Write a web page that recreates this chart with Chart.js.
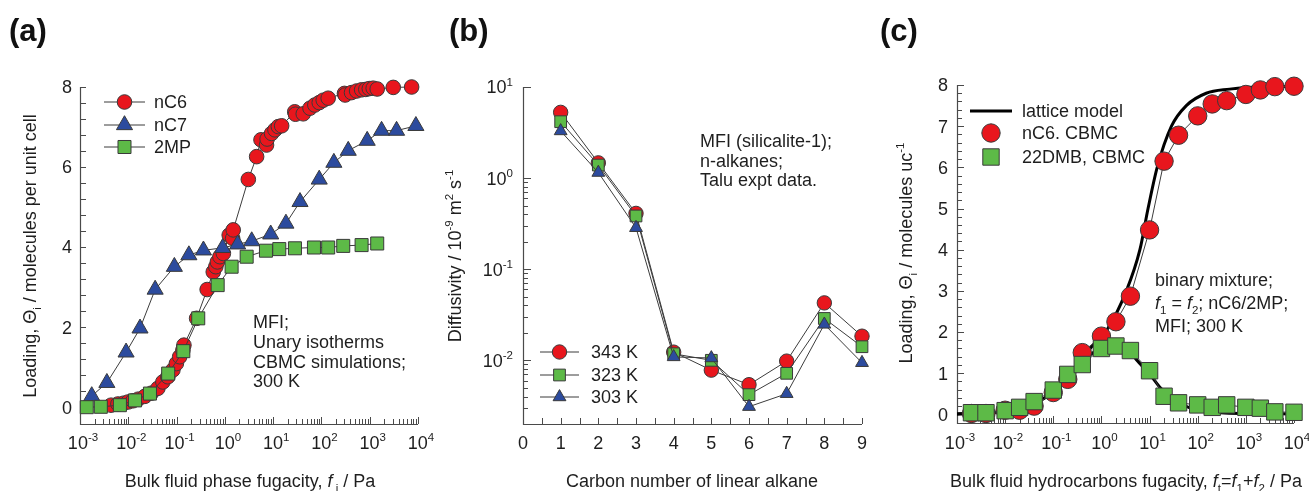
<!DOCTYPE html>
<html>
<head>
<meta charset="utf-8">
<script src="https://cdn.jsdelivr.net/npm/chart.js@4.4.1/dist/chart.umd.min.js"></script>
<style>
  html, body { margin: 0; padding: 0; background: #fff; width: 1309px; height: 491px; overflow: hidden; }
  canvas { position: absolute; top: 0; }
</style>
</head>
<body>
<canvas id="panelA" width="440" height="491" style="left:0px"></canvas>
<canvas id="panelB" width="435" height="491" style="left:440px"></canvas>
<canvas id="panelC" width="434" height="491" style="left:875px"></canvas>
<script>
// ---------- (a) unary isotherms in MFI, 300 K ----------
const nC6Fugacity = [0.0044, 0.0061, 0.008, 0.0099, 0.0125, 0.016, 0.022, 0.03, 0.041, 0.052, 0.066, 0.084, 0.099, 0.116, 0.135, 0.142, 0.26, 0.43, 0.575, 0.65, 0.70, 0.79, 0.93, 1.23, 1.45, 1.49, 3.06, 4.55, 5.6, 7.3, 7.5, 9.3, 10.9, 12.8, 15, 28, 29, 42, 58, 73, 90, 109, 138, 300, 310, 420, 535, 680, 830, 980, 1180, 1430, 3070, 7380];
const nC6Loading  = [0.05, 0.08, 0.10, 0.13, 0.16, 0.20, 0.27, 0.35, 0.47, 0.63, 0.76, 0.93, 1.09, 1.26, 1.42, 1.55, 2.22, 2.94, 3.38, 3.51, 3.63, 3.76, 3.84, 4.30, 4.22, 4.43, 5.69, 6.26, 6.68, 6.55, 6.70, 6.84, 6.93, 7.01, 7.03, 7.38, 7.32, 7.33, 7.47, 7.55, 7.61, 7.67, 7.72, 7.84, 7.80, 7.86, 7.90, 7.93, 7.94, 7.96, 7.97, 7.95, 7.99, 8.0];
const nC7Fugacity = [0.00175, 0.0036, 0.009, 0.0175, 0.036, 0.09, 0.18, 0.36, 0.9, 1.84, 3.6, 8.9, 18.4, 36, 90, 181, 359, 887, 1760, 3600, 9040];
const nC7Loading  = [0.28, 0.61, 1.37, 1.97, 2.94, 3.51, 3.80, 3.92, 3.98, 4.07, 4.15, 4.32, 4.59, 5.13, 5.69, 6.11, 6.41, 6.66, 6.91, 6.91, 7.03];
const mp2Fugacity = [0.00138, 0.0027, 0.0067, 0.0138, 0.0281, 0.067, 0.138, 0.281, 0.71, 1.38, 2.83, 7.1, 13.4, 28.3, 70, 138, 283, 679, 1430];
const mp2Loading  = [0.0, 0.01, 0.05, 0.17, 0.34, 0.84, 1.40, 2.22, 3.05, 3.51, 3.76, 3.91, 3.95, 3.97, 3.99, 3.99, 4.03, 4.05, 4.09];

// ---------- (b) diffusivities of n-alkanes in silicalite-1 ----------
const carbonNumber = [1, 2, 3, 4, 5, 6, 7, 8, 9];
const diffusivity343K = [5.27, 1.47, 0.41, 0.0123, 0.0078, 0.0054, 0.0098, 0.0427, 0.0184];
const diffusivity323K = [4.16, 1.39, 0.384, 0.0118, 0.0100, 0.0042, 0.0072, 0.0288, 0.0141];
const diffusivity303K = [3.29, 1.15, 0.285, 0.0109, 0.0106, 0.0031, 0.0043, 0.0248, 0.0094];

// ---------- (c) binary mixture nC6 / 22DMB ----------
const mixFugacity    = [0.002, 0.004, 0.01, 0.02, 0.04, 0.1, 0.2, 0.4, 1, 2, 4, 10, 20, 40, 100, 200, 400, 1000, 2000, 4000, 10000];
const mixNC6Loading  = [0.02, 0.02, 0.10, 0.10, 0.20, 0.53, 0.85, 1.50, 1.90, 2.25, 2.87, 4.48, 6.15, 6.78, 7.25, 7.54, 7.62, 7.77, 7.88, 7.96, 7.97];
const mixDMBLoading  = [0.04, 0.04, 0.09, 0.17, 0.31, 0.59, 0.97, 1.21, 1.60, 1.66, 1.55, 1.06, 0.44, 0.28, 0.23, 0.17, 0.23, 0.17, 0.15, 0.06, 0.05];
const latticeNC6Fugacity = [0.001, 0.004, 0.01, 0.02, 0.04, 0.1, 0.2, 0.45, 1, 1.3, 3.3, 6.3, 9.3, 14.4, 28.5, 58, 150, 460, 1000, 10000];
const latticeNC6Loading  = [0.01, 0.03, 0.07, 0.13, 0.25, 0.55, 0.92, 1.45, 1.9, 2.05, 3.0, 4.0, 5.0, 6.0, 7.0, 7.5, 7.8, 7.9, 7.94, 7.97];
const latticeDMBFugacity = [0.001, 0.01, 0.02, 0.04, 0.1, 0.2, 0.4, 1, 2, 4, 5.4, 10, 16, 25, 42, 100, 300, 1000, 10000];
const latticeDMBLoading  = [0.01, 0.07, 0.13, 0.25, 0.55, 0.92, 1.3, 1.6, 1.65, 1.52, 1.32, 0.98, 0.67, 0.45, 0.27, 0.1, 0.04, 0.02, 0.01];

// ---------- tick labels ----------
const fugacityDecades = [-3, -2, -1, 0, 1, 2, 3, 4];
const loadingTicksA = [0, 2, 4, 6, 8];
const diffusivityDecades = [-2, -1, 0, 1];
const carbonTicks = [0, 1, 2, 3, 4, 5, 6, 7, 8, 9];
const loadingTicksC = [0, 1, 2, 3, 4, 5, 6, 7, 8];

const FONT = '"Liberation Sans", Arial, Helvetica, sans-serif';
const INK = '#1e1e1e';
const AXIS = '#4a4a4a';
const RED = '#e8161d', BLUE = '#2c4b9e', GREEN = '#5dba47';
const EDGE = '#3a3a3a';

const xy = (xs, ys) => xs.map((x, i) => ({ x: x, y: ys[i] }));

// draws text made of runs: plain, italic, subscript, superscript
function richText(ctx, segs, x, y, size, align, rotate) {
  const parts = segs.map(s => typeof s === 'string' ? { t: s } : Object.assign({}, s));
  const fontOf = p => (p.i ? 'italic ' : '') + ((p.sub || p.sup) ? size * 0.64 : size) + 'px ' + FONT;
  let total = 0;
  parts.forEach(p => { ctx.font = fontOf(p); p.w = ctx.measureText(p.t).width; total += p.w; });
  ctx.save();
  ctx.translate(x, y);
  if (rotate) ctx.rotate(-Math.PI / 2);
  ctx.fillStyle = INK;
  ctx.textAlign = 'left';
  ctx.textBaseline = 'alphabetic';
  let cx = align === 'center' ? -total / 2 : align === 'right' ? -total : 0;
  parts.forEach(p => {
    ctx.font = fontOf(p);
    const dy = p.sub ? size * 0.28 : p.sup ? -size * 0.42 : 0;
    ctx.fillText(p.t, cx, dy);
    cx += p.w;
  });
  ctx.restore();
}

function frame(ctx, a) {
  ctx.save();
  ctx.strokeStyle = AXIS;
  ctx.lineWidth = 1.2;
  ctx.beginPath();
  ctx.moveTo(Math.round(a.left) + 0.5, a.top);
  ctx.lineTo(Math.round(a.left) + 0.5, Math.round(a.bottom) + 0.5);
  ctx.lineTo(a.right, Math.round(a.bottom) + 0.5);
  ctx.stroke();
  ctx.restore();
}

function xTicks(ctx, scale, a, values, len) {
  ctx.save();
  ctx.strokeStyle = AXIS;
  ctx.lineWidth = 1;
  ctx.beginPath();
  values.forEach(v => {
    const px = Math.round(scale.getPixelForValue(v)) + 0.5;
    ctx.moveTo(px, a.bottom);
    ctx.lineTo(px, a.bottom - len);
  });
  ctx.stroke();
  ctx.restore();
}

function yTicks(ctx, scale, a, values, len) {
  ctx.save();
  ctx.strokeStyle = AXIS;
  ctx.lineWidth = 1;
  ctx.beginPath();
  values.forEach(v => {
    const py = Math.round(scale.getPixelForValue(v)) + 0.5;
    ctx.moveTo(a.left, py);
    ctx.lineTo(a.left + len, py);
  });
  ctx.stroke();
  ctx.restore();
}

function logMinor(decades) {
  const out = [];
  for (let i = 0; i < decades.length - 1; i++) {
    for (let m = 2; m <= 9; m++) out.push(m * Math.pow(10, decades[i]));
  }
  return out;
}

function legendRow(ctx, y, x0, x1, style, label, withLine, lineW, lineColor) {
  if (withLine) {
    ctx.save();
    ctx.strokeStyle = lineColor || EDGE;
    ctx.lineWidth = lineW || 1;
    ctx.beginPath();
    ctx.moveTo(x0, y); ctx.lineTo(x1, y);
    ctx.stroke();
    ctx.restore();
  }
  if (style) {
    ctx.save();
    ctx.fillStyle = style.fill;
    ctx.strokeStyle = EDGE;
    ctx.lineWidth = 1;
    Chart.helpers.drawPoint(ctx, { pointStyle: style.shape, radius: style.r, rotation: 0, borderWidth: 1 }, (x0 + x1) / 2, y);
    ctx.restore();
  }
  richText(ctx, label.segs, label.x, y + 6.3, 18, 'left');
}

function series(points, shape, fill, r, order) {
  return {
    data: points, showLine: true, borderColor: '#3c3c3c', borderWidth: 1,
    pointStyle: shape, pointRadius: r, pointHoverRadius: r,
    pointBackgroundColor: fill, pointBorderColor: EDGE, pointBorderWidth: 1,
    clip: false, order: order
  };
}

function baseOptions(padding, xOpts, yOpts) {
  return {
    responsive: false, animation: false, devicePixelRatio: 1,
    layout: { padding: padding },
    events: [],
    plugins: { legend: { display: false }, tooltip: { enabled: false } },
    scales: {
      x: Object.assign({ display: false }, xOpts),
      y: Object.assign({ display: false }, yOpts)
    }
  };
}

// ---------------- panel (a) ----------------
new Chart(document.getElementById('panelA'), {
  type: 'scatter',
  data: {
    datasets: [
      series(xy(mp2Fugacity, mp2Loading), 'rect', GREEN, 9.2, 0),
      series(xy(nC7Fugacity, nC7Loading), 'triangle', BLUE, 9.3, 1),
      series(xy(nC6Fugacity, nC6Loading), 'circle', RED, 7.3, 2)
    ]
  },
  options: baseOptions({ left: 80, top: 87, right: 22, bottom: 67 },
    { type: 'logarithmic', min: 1e-3, max: 1e4 },
    { type: 'linear', min: -0.42, max: 8 }),
  plugins: [{
    id: 'decorA',
    beforeDatasetsDraw(chart) {
      const ctx = chart.ctx, a = chart.chartArea, sx = chart.scales.x, sy = chart.scales.y;
      frame(ctx, a);
      xTicks(ctx, sx, a, logMinor(fugacityDecades), 5);
      xTicks(ctx, sx, a, fugacityDecades.map(d => Math.pow(10, d)), 7);
      const yMinor = [];
      for (let k = 0; k <= 20; k++) yMinor.push(k * 0.4);
      yTicks(ctx, sy, a, yMinor, 6);
    },
    afterDraw(chart) {
      const ctx = chart.ctx, a = chart.chartArea, sx = chart.scales.x, sy = chart.scales.y;
      fugacityDecades.forEach(d => richText(ctx, ['10', { t: String(d), sup: true }], sx.getPixelForValue(Math.pow(10, d)) + 3, 449, 18, 'center'));
      loadingTicksA.forEach(v => richText(ctx, [String(v)], a.left - 8, sy.getPixelForValue(v) + 6.4, 18, 'right'));
      richText(ctx, ['Bulk fluid phase fugacity, ', { t: 'f', i: true }, { t: ' i', sub: true }, ' / Pa'], 250, 487, 18, 'center');
      richText(ctx, ['Loading, \u0398', { t: 'i', sub: true }, ' / molecules per unit cell'], 36, 256, 18, 'center', true);
      ctx.save(); ctx.font = 'bold 31px ' + FONT; ctx.fillStyle = '#111'; ctx.textBaseline = 'alphabetic'; ctx.fillText('(a)', 9, 41); ctx.restore();
      legendRow(ctx, 102, 104, 145, { shape: 'circle', fill: RED, r: 7.3 }, { x: 154, segs: ['nC6'] }, true);
      legendRow(ctx, 125, 104, 145, { shape: 'triangle', fill: BLUE, r: 9.3 }, { x: 154, segs: ['nC7'] }, true);
      legendRow(ctx, 147, 104, 145, { shape: 'rect', fill: GREEN, r: 9.2 }, { x: 154, segs: ['2MP'] }, true);
      const note = ['MFI;', 'Unary isotherms', 'CBMC simulations;', '300 K'];
      [328, 348, 368, 387].forEach((y, i) => richText(ctx, [note[i]], 253, y, 18, 'left'));
    }
  }]
});

// ---------------- panel (b) ----------------
new Chart(document.getElementById('panelB'), {
  type: 'scatter',
  data: {
    datasets: [
      series(xy(carbonNumber, diffusivity303K), 'triangle', BLUE, 7.4, 0),
      series(xy(carbonNumber, diffusivity323K), 'rect', GREEN, 8.3, 1),
      series(xy(carbonNumber, diffusivity343K), 'circle', RED, 7.2, 2)
    ]
  },
  options: baseOptions({ left: 83, top: 87, right: 13, bottom: 67 },
    { type: 'linear', min: 0, max: 9 },
    { type: 'logarithmic', min: 0.002, max: 10 }),
  plugins: [{
    id: 'decorB',
    beforeDatasetsDraw(chart) {
      const ctx = chart.ctx, a = chart.chartArea, sx = chart.scales.x, sy = chart.scales.y;
      frame(ctx, a);
      const xs = [];
      for (let k = 1; k <= 18; k++) xs.push(k * 0.5);
      xTicks(ctx, sx, a, xs, 6);
      const minor = logMinor([-3, -2, -1, 0]).filter(v => v >= 0.002 && v <= 10);
      yTicks(ctx, sy, a, minor, 5);
      yTicks(ctx, sy, a, diffusivityDecades.map(d => Math.pow(10, d)), 8);
    },
    afterDraw(chart) {
      const ctx = chart.ctx, a = chart.chartArea, sx = chart.scales.x, sy = chart.scales.y;
      carbonTicks.forEach(v => richText(ctx, [String(v)], sx.getPixelForValue(v), 449, 18, 'center'));
      diffusivityDecades.forEach(d => richText(ctx, ['10', { t: String(d), sup: true }], a.left - 10, sy.getPixelForValue(Math.pow(10, d)) + 6.4, 18, 'right'));
      richText(ctx, ['Carbon number of linear alkane'], 252, 487, 18, 'center');
      richText(ctx, ['Diffusivity / 10', { t: '-9', sup: true }, ' m', { t: '2', sup: true }, ' s', { t: '-1', sup: true }], 21, 256, 18, 'center', true);
      ctx.save(); ctx.font = 'bold 31px ' + FONT; ctx.fillStyle = '#111'; ctx.textBaseline = 'alphabetic'; ctx.fillText('(b)', 9, 41); ctx.restore();
      legendRow(ctx, 352, 100, 139, { shape: 'circle', fill: RED, r: 7.2 }, { x: 151, segs: ['343 K'] }, true);
      legendRow(ctx, 375, 100, 139, { shape: 'rect', fill: GREEN, r: 8.3 }, { x: 151, segs: ['323 K'] }, true);
      legendRow(ctx, 397, 100, 139, { shape: 'triangle', fill: BLUE, r: 7.4 }, { x: 151, segs: ['303 K'] }, true);
      const note = ['MFI (silicalite-1);', 'n-alkanes;', 'Talu expt data.'];
      [147, 167, 186].forEach((y, i) => richText(ctx, [note[i]], 260, y, 18, 'left'));
    }
  }]
});

// ---------------- panel (c) ----------------
new Chart(document.getElementById('panelC'), {
  type: 'scatter',
  data: {
    datasets: [
      series(xy(mixFugacity, mixDMBLoading), 'rect', GREEN, 11.6, 0),
      series(xy(mixFugacity, mixNC6Loading), 'circle', RED, 9.2, 1),
      { data: xy(latticeNC6Fugacity, latticeNC6Loading), showLine: true, borderColor: '#000', borderWidth: 3,
        pointRadius: 0, cubicInterpolationMode: 'monotone', clip: false, order: 2 },
      { data: xy(latticeDMBFugacity, latticeDMBLoading), showLine: true, borderColor: '#000', borderWidth: 3,
        pointRadius: 0, cubicInterpolationMode: 'monotone', clip: false, order: 3 }
    ].map(d => Object.assign(d, { showLine: d.showLine !== undefined ? d.showLine : true }))
  },
  options: baseOptions({ left: 82, top: 85, right: 15, bottom: 68 },
    { type: 'logarithmic', min: 1e-3, max: 1e4 },
    { type: 'linear', min: -0.21, max: 8 }),
  plugins: [{
    id: 'decorC',
    beforeDatasetsDraw(chart) {
      const ctx = chart.ctx, a = chart.chartArea, sx = chart.scales.x, sy = chart.scales.y;
      frame(ctx, a);
      xTicks(ctx, sx, a, logMinor(fugacityDecades), 5);
      xTicks(ctx, sx, a, fugacityDecades.map(d => Math.pow(10, d)), 7);
      const yMinor = [];
      for (let k = 0; k <= 40; k++) yMinor.push(k * 0.2);
      yTicks(ctx, sy, a, yMinor, 5);
      yTicks(ctx, sy, a, loadingTicksC, 7);
    },
    afterDraw(chart) {
      const ctx = chart.ctx, a = chart.chartArea, sx = chart.scales.x, sy = chart.scales.y;
      fugacityDecades.forEach(d => richText(ctx, ['10', { t: String(d), sup: true }], sx.getPixelForValue(Math.pow(10, d)) + 3, 449, 18, 'center'));
      loadingTicksC.forEach(v => richText(ctx, [String(v)], a.left - 9, sy.getPixelForValue(v) + 6.4, 18, 'right'));
      richText(ctx, ['Bulk fluid hydrocarbons fugacity, ', { t: 'f', i: true }, { t: 't', sub: true }, '=', { t: 'f', i: true }, { t: '1', sub: true }, '+', { t: 'f', i: true }, { t: '2', sub: true }, ' / Pa'], 251, 487, 18, 'center');
      richText(ctx, ['Loading, \u0398', { t: 'i', sub: true }, ' / molecules uc', { t: '-1', sup: true }], 37, 253, 18, 'center', true);
      ctx.save(); ctx.font = 'bold 31px ' + FONT; ctx.fillStyle = '#111'; ctx.textBaseline = 'alphabetic'; ctx.fillText('(c)', 5, 41); ctx.restore();
      legendRow(ctx, 111, 95, 137, null, { x: 147, segs: ['lattice model'] }, true, 3.2, '#000');
      legendRow(ctx, 133, 95, 137, { shape: 'circle', fill: RED, r: 9.2 }, { x: 147, segs: ['nC6. CBMC'] }, false);
      legendRow(ctx, 157, 95, 137, { shape: 'rect', fill: GREEN, r: 11.6 }, { x: 147, segs: ['22DMB, CBMC'] }, false);
      richText(ctx, ['binary mixture;'], 280, 286, 18, 'left');
      richText(ctx, [{ t: 'f', i: true }, { t: '1', sub: true }, ' = ', { t: 'f', i: true }, { t: '2', sub: true }, '; nC6/2MP;'], 280, 309, 18, 'left');
      richText(ctx, ['MFI; 300 K'], 280, 332, 18, 'left');
    }
  }]
});
</script>
</body>
</html>
